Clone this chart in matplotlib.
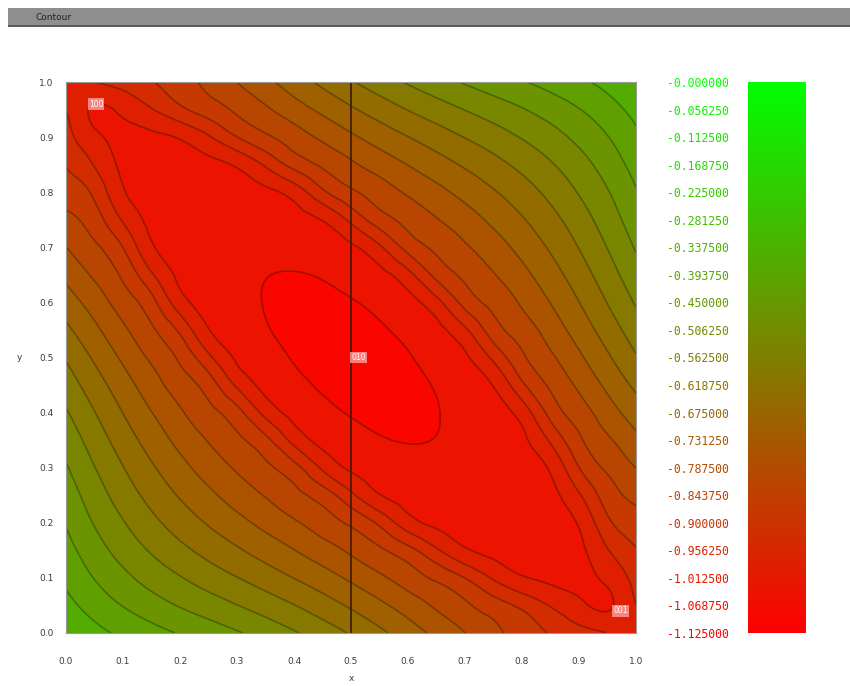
import numpy as np
import matplotlib
matplotlib.use("Agg")
import matplotlib.pyplot as plt
import matplotlib.tri as mtri
from matplotlib.colors import LinearSegmentedColormap, Normalize
from matplotlib.patches import Rectangle

# ---------------- data ----------------
x_values = [round(0.05 * i, 2) for i in range(21)]
y_values = [round(0.05 * j, 2) for j in range(21)]
# z_grid[j][i] = value at (x_values[i], y_values[j])
z_grid = [
    [-0.341, -0.376, -0.405, -0.430, -0.454, -0.477, -0.501, -0.528, -0.557, -0.589, -0.624, -0.663, -0.703, -0.745, -0.787, -0.829, -0.868, -0.904, -0.936, -0.957, -0.993],
    [-0.376, -0.417, -0.452, -0.482, -0.510, -0.535, -0.561, -0.588, -0.617, -0.649, -0.683, -0.719, -0.757, -0.796, -0.834, -0.873, -0.913, -0.960, -1.000, -1.019, -0.957],
    [-0.405, -0.452, -0.492, -0.528, -0.559, -0.589, -0.617, -0.646, -0.676, -0.707, -0.741, -0.777, -0.814, -0.854, -0.901, -0.963, -1.007, -1.024, -1.028, -1.000, -0.936],
    [-0.430, -0.482, -0.528, -0.568, -0.604, -0.637, -0.668, -0.699, -0.730, -0.763, -0.797, -0.835, -0.881, -0.948, -1.005, -1.025, -1.030, -1.030, -1.024, -0.960, -0.904],
    [-0.454, -0.510, -0.559, -0.604, -0.644, -0.680, -0.714, -0.747, -0.780, -0.815, -0.854, -0.912, -0.989, -1.023, -1.032, -1.033, -1.032, -1.030, -1.007, -0.913, -0.868],
    [-0.477, -0.535, -0.589, -0.637, -0.680, -0.719, -0.756, -0.791, -0.827, -0.870, -0.943, -1.010, -1.032, -1.039, -1.040, -1.037, -1.033, -1.025, -0.963, -0.873, -0.829],
    [-0.501, -0.561, -0.617, -0.668, -0.714, -0.756, -0.795, -0.833, -0.880, -0.966, -1.021, -1.040, -1.049, -1.053, -1.048, -1.040, -1.032, -1.005, -0.901, -0.834, -0.787],
    [-0.528, -0.588, -0.646, -0.699, -0.747, -0.791, -0.833, -0.884, -0.975, -1.027, -1.046, -1.063, -1.072, -1.067, -1.053, -1.039, -1.023, -0.948, -0.854, -0.796, -0.745],
    [-0.557, -0.617, -0.676, -0.730, -0.780, -0.827, -0.880, -0.975, -1.028, -1.051, -1.075, -1.094, -1.093, -1.072, -1.049, -1.032, -0.989, -0.881, -0.814, -0.757, -0.703],
    [-0.589, -0.649, -0.707, -0.763, -0.815, -0.870, -0.966, -1.027, -1.051, -1.080, -1.109, -1.116, -1.094, -1.063, -1.040, -1.010, -0.912, -0.835, -0.777, -0.719, -0.663],
    [-0.624, -0.683, -0.741, -0.797, -0.854, -0.943, -1.021, -1.046, -1.075, -1.109, -1.125, -1.109, -1.075, -1.046, -1.021, -0.943, -0.854, -0.797, -0.741, -0.683, -0.624],
    [-0.663, -0.719, -0.777, -0.835, -0.912, -1.010, -1.040, -1.063, -1.094, -1.116, -1.109, -1.080, -1.051, -1.027, -0.966, -0.870, -0.815, -0.763, -0.707, -0.649, -0.589],
    [-0.703, -0.757, -0.814, -0.881, -0.989, -1.032, -1.049, -1.072, -1.093, -1.094, -1.075, -1.051, -1.028, -0.975, -0.880, -0.827, -0.780, -0.730, -0.676, -0.617, -0.557],
    [-0.745, -0.796, -0.854, -0.948, -1.023, -1.039, -1.053, -1.067, -1.072, -1.063, -1.046, -1.027, -0.975, -0.884, -0.833, -0.791, -0.747, -0.699, -0.646, -0.588, -0.528],
    [-0.787, -0.834, -0.901, -1.005, -1.032, -1.040, -1.048, -1.053, -1.049, -1.040, -1.021, -0.966, -0.880, -0.833, -0.795, -0.756, -0.714, -0.668, -0.617, -0.561, -0.501],
    [-0.829, -0.873, -0.963, -1.025, -1.033, -1.037, -1.040, -1.039, -1.032, -1.010, -0.943, -0.870, -0.827, -0.791, -0.756, -0.719, -0.680, -0.637, -0.589, -0.535, -0.477],
    [-0.868, -0.913, -1.007, -1.030, -1.032, -1.033, -1.032, -1.023, -0.989, -0.912, -0.854, -0.815, -0.780, -0.747, -0.714, -0.680, -0.644, -0.604, -0.559, -0.510, -0.454],
    [-0.904, -0.960, -1.024, -1.030, -1.030, -1.025, -1.005, -0.948, -0.881, -0.835, -0.797, -0.763, -0.730, -0.699, -0.668, -0.637, -0.604, -0.568, -0.528, -0.482, -0.430],
    [-0.936, -1.000, -1.028, -1.024, -1.007, -0.963, -0.901, -0.854, -0.814, -0.777, -0.741, -0.707, -0.676, -0.646, -0.617, -0.589, -0.559, -0.528, -0.492, -0.452, -0.405],
    [-0.957, -1.019, -1.000, -0.960, -0.913, -0.873, -0.834, -0.796, -0.757, -0.719, -0.683, -0.649, -0.617, -0.588, -0.561, -0.535, -0.510, -0.482, -0.452, -0.417, -0.376],
    [-0.993, -0.957, -0.936, -0.904, -0.868, -0.829, -0.787, -0.745, -0.703, -0.663, -0.624, -0.589, -0.557, -0.528, -0.501, -0.477, -0.454, -0.430, -0.405, -0.376, -0.341],
]
z_min, z_max = -1.125, 0.0
n_bands = 20
tick_values = [0.0, 0.1, 0.2, 0.3, 0.4, 0.5, 0.6, 0.7, 0.8, 0.9, 1.0]
tick_labels = ["0.0", "0.1", "0.2", "0.3", "0.4", "0.5", "0.6", "0.7", "0.8", "0.9", "1.0"]
point_x = [0.04, 0.5, 0.96]
point_y = [0.96, 0.5, 0.04]
point_labels = ["100", "010", "001"]
marker_line_x = 0.5

# ---------------- figure ----------------
W, H = 850, 686
fig = plt.figure(figsize=(W / 100, H / 100), dpi=100)
fig.patch.set_facecolor("white")

def fx(px): return px / W
def fy(py): return 1 - py / H

cmap = LinearSegmentedColormap.from_list("rg", [(1, 0, 0), (0, 1, 0)])
norm = Normalize(vmin=z_min, vmax=z_max)
levels = np.linspace(z_min, z_max, n_bands + 1)

Xg, Yg = np.meshgrid(np.array(x_values), np.array(y_values))
Zg = np.array(z_grid)
tri = mtri.Triangulation(Xg.ravel(), Yg.ravel())
tri_f, z_f = mtri.UniformTriRefiner(tri).refine_field(Zg.ravel(), subdiv=3)

ax = fig.add_axes([fx(66), fy(633), fx(636) - fx(66), fy(82) - fy(633)])
ax.tricontourf(tri_f, z_f, levels=levels, cmap=cmap, norm=norm, extend="both")
ax.tricontour(tri_f, z_f, levels=levels, colors="black", alpha=0.3,
              linewidths=1.2, linestyles="solid")
ax.axvline(marker_line_x, color="#3a1a00", lw=1.2)
ax.set_xlim(0, 1)
ax.set_ylim(0, 1)
ax.set_xticks(tick_values)
ax.set_yticks(tick_values)
ax.set_xticklabels(tick_labels)
ax.set_yticklabels(tick_labels)
ax.tick_params(length=0, labelsize=6.5, colors="#3c3c3c")
ax.tick_params(axis="x", pad=17)
ax.tick_params(axis="y", pad=9)
for s in ax.spines.values():
    s.set_color("#999999")
    s.set_linewidth(0.8)
ax.set_xlabel("x", fontsize=6.5, color="#3c3c3c", labelpad=6)
ax.set_ylabel("y", fontsize=6.5, color="#3c3c3c", rotation=0, labelpad=14,
              va="center")

for px_, py_, lb in zip(point_x, point_y, point_labels):
    ax.text(px_, py_, lb, fontsize=5.5, color="white", va="center", ha="left",
            bbox=dict(boxstyle="square,pad=0.15", fc="#ff9f9f", ec="none",
                      alpha=0.8))

# colour bar
cax = fig.add_axes([fx(748), fy(633), fx(806) - fx(748), fy(82) - fy(633)])
grad = np.linspace(z_min, z_max, 256).reshape(-1, 1)
cax.imshow(grad, aspect="auto", cmap=cmap, norm=norm, origin="lower",
           extent=[0, 1, z_min, z_max])
cax.set_xticks([])
cax.set_yticks(levels)
cax.set_yticklabels([f"{v:.6f}" if v != 0 else "-0.000000" for v in levels])
cax.tick_params(length=0, labelsize=8.3, pad=14)
for lab, v in zip(cax.get_yticklabels(), levels):
    lab.set_color(cmap(norm(v)))
    lab.set_family("DejaVu Sans Mono")
for s in cax.spines.values():
    s.set_visible(False)

# window title bar of the screenshot
fig.patches.append(Rectangle((fx(8), fy(26)), 1 - fx(8), fy(8) - fy(26),
                             transform=fig.transFigure, fc="#8e8e8e", ec="none"))
fig.patches.append(Rectangle((fx(8), fy(27)), 1 - fx(8), fy(25) - fy(27),
                             transform=fig.transFigure, fc="#5a5a5a", ec="none"))
fig.text(fx(36), fy(17), "Contour", fontsize=6.5, color="#222222", va="center")

fig.savefig("out.png", dpi=100)
